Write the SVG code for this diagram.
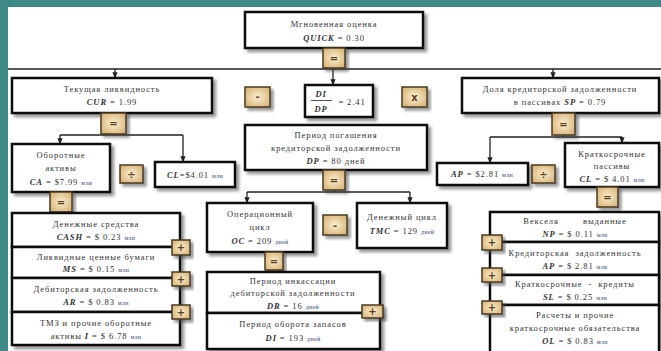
<svg xmlns="http://www.w3.org/2000/svg" width="661" height="351" viewBox="0 0 661 351">
<style>
.box{fill:#fff;stroke:#111;stroke-width:2.5;filter:url(#sh)}
.op{fill:url(#opg);stroke:#4a3a20;stroke-width:1.5;filter:url(#sh)}
.opt{font-family:"DejaVu Sans",sans-serif;font-size:10px;fill:#5a4020;text-anchor:middle;font-weight:bold}
.t{font-family:"Liberation Serif",serif;font-size:8.5px;fill:#333;text-anchor:middle;letter-spacing:0.9px;white-space:pre}
.v{font-style:italic;font-weight:bold}
.u{font-size:6px;fill:#3a4a80;letter-spacing:0.3px}
.ln{fill:none;stroke:#222;stroke-width:1.3}
</style>
<defs>
<filter id="sh" x="-10%" y="-10%" width="130%" height="140%">
<feDropShadow dx="3" dy="3" stdDeviation="1.5" flood-color="#444" flood-opacity="0.55"/>
</filter>
<radialGradient id="opg" cx="50%" cy="50%" r="60%">
<stop offset="0" stop-color="#fbefd2"/>
<stop offset="1" stop-color="#d8b577"/>
</radialGradient>
<marker id="ah" viewBox="0 0 10 10" refX="9" refY="5" markerWidth="5" markerHeight="5" orient="auto">
<path d="M0,1 L10,5 L0,9 z" fill="#222"/>
</marker>
</defs>
<rect x="0" y="0" width="661" height="351" fill="#fff"/>
<rect x="0" y="0" width="661" height="7" fill="#3f8a87"/>
<rect x="0" y="0" width="8" height="351" fill="#3f8a87"/>

<g id="connectors">
<path class="ln" d="M8,69 H661"/>
<path class="ln" d="M334,68 V69"/>
<path class="ln" d="M115,69 V78" marker-end="url(#ah)"/>
<path class="ln" d="M333,69 V85" marker-end="url(#ah)"/>
<path class="ln" d="M553,69 V78" marker-end="url(#ah)"/>
<path class="ln" d="M60,135 H183"/>
<path class="ln" d="M60,135 V144" marker-end="url(#ah)"/>
<path class="ln" d="M183,135 V162" marker-end="url(#ah)"/>
<path class="ln" d="M247,192 H410"/>
<path class="ln" d="M334,190 V192"/>
<path class="ln" d="M247,192 V203" marker-end="url(#ah)"/>
<path class="ln" d="M410,192 V203" marker-end="url(#ah)"/>
<path class="ln" d="M490,137 H622"/>
<path class="ln" d="M563,135 V137"/>
<path class="ln" d="M490,137 V163" marker-end="url(#ah)"/>
<path class="ln" d="M622,137 V143" marker-end="url(#ah)"/>
</g>

<g id="quick">
<rect class="box" x="245" y="12" width="178" height="36"/>
<text class="t" x="334" y="27">Мгновенная оценка</text>
<text class="t" x="334" y="41"><tspan class="v">QUICK</tspan> = 0.30</text>
</g>
<g id="op-quick"><rect class="op" x="323" y="48" width="22" height="20"/><text class="opt" x="334" y="62">=</text></g>

<g id="cur">
<rect class="box" x="12" y="78" width="200" height="35"/>
<text class="t" x="112" y="92">Текущая ликвидность</text>
<text class="t" x="112" y="105"><tspan class="v">CUR</tspan> = 1.99</text>
</g>
<g id="op-cur"><rect class="op" x="101" y="113" width="25" height="21"/><text class="opt" x="113.5" y="127">=</text></g>

<g id="op-minus1"><rect class="op" x="245" y="87" width="25" height="20"/><text class="opt" x="257.5" y="100">-</text></g>

<g id="didp">
<rect class="box" x="305" y="85" width="68" height="32"/>
<text class="t" x="321" y="97"><tspan class="v">DI</tspan></text>
<path d="M311,100.5 H332" stroke="#222" stroke-width="0.8"/>
<text class="t" x="321" y="112"><tspan class="v">DP</tspan></text>
<text class="t" x="352" y="105">= 2.41</text>
</g>

<g id="op-mult"><rect class="op" x="402" y="87" width="25" height="20"/><text class="opt" x="414.5" y="101">x</text></g>

<g id="sp">
<rect class="box" x="462" y="78" width="197" height="35"/>
<text class="t" x="560" y="92">Доля кредиторской задолженности</text>
<text class="t" x="560" y="105">в пассивах <tspan class="v">SP</tspan> = 0.79</text>
</g>
<g id="op-sp"><rect class="op" x="552" y="113" width="23" height="22"/><text class="opt" x="563.5" y="128">=</text></g>

<g id="dp">
<rect class="box" x="245" y="125" width="182" height="45"/>
<text class="t" x="336" y="138">Период погашения</text>
<text class="t" x="336" y="151">кредиторской задолженности</text>
<text class="t" x="336" y="164"><tspan class="v">DP</tspan> = 80 дней</text>
</g>
<g id="op-dp"><rect class="op" x="323" y="170" width="22" height="20"/><text class="opt" x="334" y="184">=</text></g>

<g id="ca">
<rect class="box" x="12" y="144" width="98" height="48"/>
<text class="t" x="61" y="158">Оборотные</text>
<text class="t" x="61" y="171">активы</text>
<text class="t" x="61" y="185"><tspan class="v">CA</tspan> = $7.99 <tspan class="u">млн</tspan></text>
</g>
<g id="op-div1"><rect class="op" x="120" y="165" width="23" height="18"/><text class="opt" x="131.5" y="178">÷</text></g>
<g id="cl1">
<rect class="box" x="155" y="162" width="80" height="25"/>
<text class="t" x="195" y="178"><tspan class="v">CL</tspan>=$4.01 <tspan class="u">млн</tspan></text>
</g>
<g id="op-ca"><rect class="op" x="50" y="192" width="22" height="20"/><text class="opt" x="61" y="206">=</text></g>

<g id="cash">
<rect class="box" x="12" y="213" width="168" height="34"/>
<text class="t" x="96" y="227">Денежные средства</text>
<text class="t" x="96" y="240"><tspan class="v">CASH</tspan> = $ 0.23 <tspan class="u">млн</tspan></text>
</g>
<g id="ms">
<rect class="box" x="12" y="247" width="168" height="31"/>
<text class="t" x="96" y="260">Ликвидные ценные бумаги</text>
<text class="t" x="96" y="272"><tspan class="v">MS</tspan> = $ 0.15 <tspan class="u">млн</tspan></text>
</g>
<g id="ar">
<rect class="box" x="12" y="278" width="168" height="34"/>
<text class="t" x="96" y="292">Дебиторская задолженность</text>
<text class="t" x="96" y="305"><tspan class="v">AR</tspan> = $ 0.83 <tspan class="u">млн</tspan></text>
</g>
<g id="inv">
<rect class="box" x="12" y="312" width="168" height="33"/>
<text class="t" x="96" y="326">ТМЗ и прочие оборотные</text>
<text class="t" x="96" y="339">активы <tspan class="v">I</tspan> = $ 6.78 <tspan class="u">млн</tspan></text>
</g>
<g id="op-p1"><rect class="op" x="172" y="240" width="18" height="15"/><text class="opt" x="181" y="251">+</text></g>
<g id="op-p2"><rect class="op" x="172" y="272" width="18" height="14"/><text class="opt" x="181" y="283">+</text></g>
<g id="op-p3"><rect class="op" x="172" y="305" width="18" height="14"/><text class="opt" x="181" y="316">+</text></g>

<g id="oc">
<rect class="box" x="207" y="203" width="106" height="49"/>
<text class="t" x="260" y="217">Операционный</text>
<text class="t" x="260" y="230">цикл</text>
<text class="t" x="260" y="244"><tspan class="v">OC</tspan> = 209 <tspan class="u">дней</tspan></text>
</g>
<g id="op-minus2"><rect class="op" x="323" y="215" width="24" height="20"/><text class="opt" x="335" y="229">-</text></g>
<g id="tmc">
<rect class="box" x="357" y="203" width="90" height="45"/>
<text class="t" x="402" y="220">Денежный цикл</text>
<text class="t" x="402" y="234"><tspan class="v">TMC</tspan> = 129 <tspan class="u">дней</tspan></text>
</g>
<g id="op-oc"><rect class="op" x="265" y="252" width="18" height="18"/><text class="opt" x="274" y="265">=</text></g>
<g id="dr">
<rect class="box" x="207" y="272" width="173" height="41"/>
<text class="t" x="293" y="284">Период инкассации</text>
<text class="t" x="293" y="296">дебиторской задолженности</text>
<text class="t" x="293" y="309"><tspan class="v">DR</tspan> = 16 <tspan class="u">дней</tspan></text>
</g>
<g id="di">
<rect class="box" x="207" y="313" width="173" height="36"/>
<text class="t" x="293" y="327">Период оборота запасов</text>
<text class="t" x="293" y="341"><tspan class="v">DI</tspan> = 193 <tspan class="u">дней</tspan></text>
</g>
<g id="op-p4"><rect class="op" x="362" y="305" width="21" height="13"/><text class="opt" x="372.5" y="315">+</text></g>

<g id="ap">
<rect class="box" x="437" y="163" width="91" height="22"/>
<text class="t" x="482" y="177"><tspan class="v">AP</tspan> = $2.81 <tspan class="u">млн</tspan></text>
</g>
<g id="op-div2"><rect class="op" x="532" y="165" width="23" height="18"/><text class="opt" x="543.5" y="178">÷</text></g>
<g id="cl2">
<rect class="box" x="565" y="143" width="94" height="44"/>
<text class="t" x="612" y="157">Краткосрочные</text>
<text class="t" x="612" y="169">пассивы</text>
<text class="t" x="612" y="182"><tspan class="v">CL</tspan> = $ 4.01 <tspan class="u">млн</tspan></text>
</g>
<g id="op-cl"><rect class="op" x="597" y="187" width="21" height="20"/><text class="opt" x="607.5" y="201">=</text></g>

<g id="np">
<rect class="box" x="490" y="212" width="169" height="30"/>
<text class="t" x="575" y="224" xml:space="preserve">Векселя        выданные</text>
<text class="t" x="575" y="237"><tspan class="v">NP</tspan> = $ 0.11 <tspan class="u">млн</tspan></text>
</g>
<g id="ap2">
<rect class="box" x="490" y="242" width="169" height="33"/>
<text class="t" x="575" y="256" xml:space="preserve">Кредиторская  задолженность</text>
<text class="t" x="575" y="269"><tspan class="v">AP</tspan> = $ 2.81 <tspan class="u">млн</tspan></text>
</g>
<g id="sl">
<rect class="box" x="490" y="275" width="169" height="30"/>
<text class="t" x="575" y="287" xml:space="preserve">Краткосрочные  -  кредиты</text>
<text class="t" x="575" y="300"><tspan class="v">SL</tspan> = $ 0.25 <tspan class="u">млн</tspan></text>
</g>
<g id="ol">
<rect class="box" x="490" y="305" width="169" height="48"/>
<text class="t" x="575" y="318">Расчеты и прочие</text>
<text class="t" x="575" y="331">краткосрочные обязательства</text>
<text class="t" x="575" y="344"><tspan class="v">OL</tspan> = $ 0.83 <tspan class="u">млн</tspan></text>
</g>
<g id="op-p5"><rect class="op" x="482" y="235" width="20" height="15"/><text class="opt" x="492" y="246">+</text></g>
<g id="op-p6"><rect class="op" x="482" y="268" width="20" height="14"/><text class="opt" x="492" y="279">+</text></g>
<g id="op-p7"><rect class="op" x="482" y="301" width="20" height="13"/><text class="opt" x="492" y="311">+</text></g>
</svg>
